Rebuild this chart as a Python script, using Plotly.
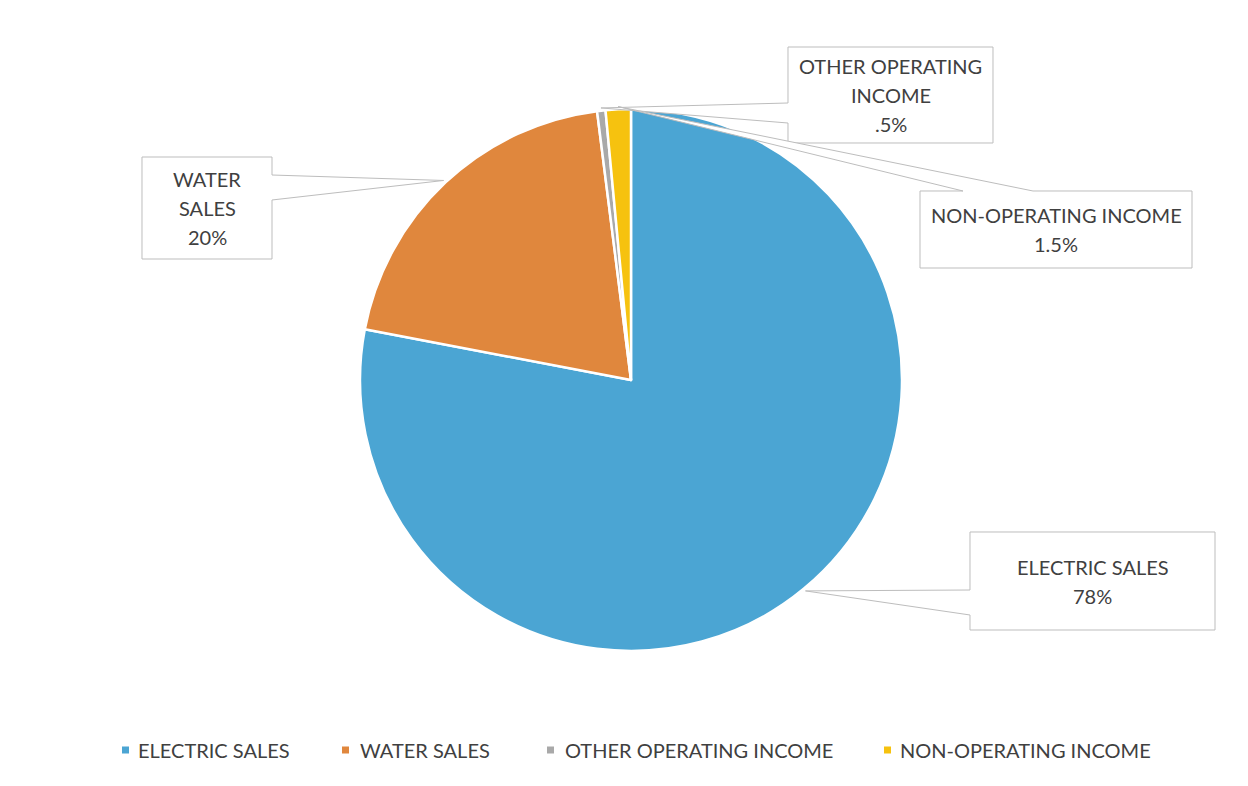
import math
import plotly.graph_objects as go

# ---- data ----
labels = ["ELECTRIC SALES", "WATER SALES", "OTHER OPERATING INCOME", "NON-OPERATING INCOME"]
values = [78, 20, 0.5, 1.5]
pct_text = ["78%", "20%", ".5%", "1.5%"]
callout_lines = [["ELECTRIC SALES"], ["WATER", "SALES"], ["OTHER OPERATING", "INCOME"], ["NON-OPERATING INCOME"]]
colors = ["#4BA5D3", "#E0873D", "#A9A9A9", "#F6C20F"]

# ---- layout constants (pixels) ----
W, H = 1248, 786
CX, CY, R = 631, 380, 271
FONT = "Lato"
TXT = "#404040"
EDGE = "#BDBDBD"
LINE_H = 29
LEGEND_Y = 750
LEGEND_MARK_X = [122, 342, 547, 884]
LEGEND_TEXT_X = [136, 358, 563, 898]
MARK = 7

def px(x):
    return x / W

def py(y):
    return 1 - y / H

fig = go.Figure(go.Pie(
    labels=labels, values=values, sort=False, direction="clockwise", rotation=0,
    marker=dict(colors=colors, line=dict(color="white", width=2.5)),
    textinfo="none", hoverinfo="label+percent", showlegend=False,
    domain=dict(x=[px(CX - R), px(CX + R)], y=[py(CY + R), py(CY - R)]),
))

# slice mid angles from data
total = sum(values)
cum = 0
tips = []
for v in values:
    mid = (cum + v / 2) / total * 2 * math.pi
    cum += v
    rr = R * 1.01
    tips.append((CX + rr * math.sin(mid), CY - rr * math.cos(mid)))

# callout boxes: (x0, y0, x1, y1, side, b1, b2)
boxes = [
    (970, 532, 1215, 630, "left", 590, 615),
    (142, 157, 272, 259, "right", 175, 200),
    (788, 47, 993, 143, "left", 103, 123),
    (920, 191, 1192, 268, "top", 963, 1033),
]

shapes = []
annotations = []
for i, (x0, y0, x1, y1, side, b1, b2) in enumerate(boxes):
    tx, ty = tips[i]
    if side == "left":
        pts = [(x0, y0), (x1, y0), (x1, y1), (x0, y1), (x0, b2), (tx, ty), (x0, b1)]
    elif side == "right":
        pts = [(x0, y0), (x1, y0), (x1, b1), (tx, ty), (x1, b2), (x1, y1), (x0, y1)]
    else:  # top
        pts = [(x0, y0), (b1, y0), (tx, ty), (b2, y0), (x1, y0), (x1, y1), (x0, y1)]
    path = "M " + " L ".join(f"{px(a):.5f},{py(b):.5f}" for a, b in pts) + " Z"
    shapes.append(dict(type="path", path=path, xref="paper", yref="paper",
                       fillcolor="white", line=dict(color=EDGE, width=1), layer="above"))
    lines = callout_lines[i] + [pct_text[i]]
    cyb = (y0 + y1) / 2
    n = len(lines)
    for k, ln in enumerate(lines):
        ly = cyb + (k - (n - 1) / 2) * LINE_H
        annotations.append(dict(x=px((x0 + x1) / 2), y=py(ly), xref="paper", yref="paper",
                                text=ln, showarrow=False, xanchor="center", yanchor="middle",
                                font=dict(family=FONT, size=20, color=TXT), align="center"))

# legend (drawn as layout items)
for i, lab in enumerate(labels):
    mx = LEGEND_MARK_X[i]
    shapes.append(dict(type="rect", xref="paper", yref="paper",
                       x0=px(mx), x1=px(mx + MARK),
                       y0=py(LEGEND_Y + MARK / 2), y1=py(LEGEND_Y - MARK / 2),
                       fillcolor=colors[i], line=dict(width=0)))
    annotations.append(dict(x=px(LEGEND_TEXT_X[i]), y=py(LEGEND_Y), xref="paper", yref="paper",
                            text=lab, showarrow=False, xanchor="left", yanchor="middle",
                            font=dict(family=FONT, size=20, color=TXT)))

fig.update_layout(
    width=W, height=H,
    margin=dict(l=0, r=0, t=0, b=0),
    paper_bgcolor="white", plot_bgcolor="white",
    shapes=shapes, annotations=annotations,
    showlegend=False,
)

fig.write_html("out.html")
